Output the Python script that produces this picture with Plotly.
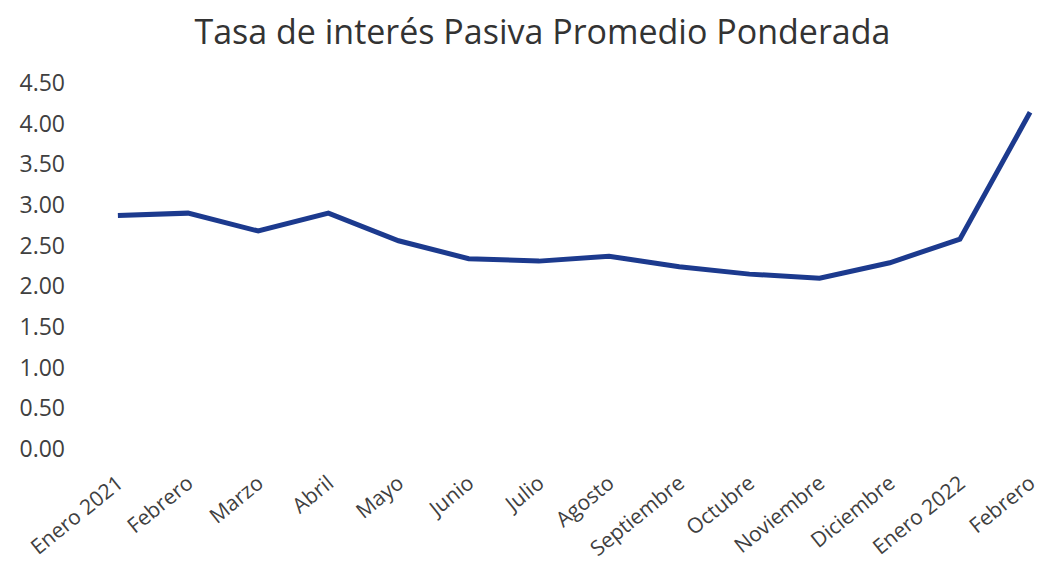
import plotly.graph_objects as go

meses = ["Enero 2021", "Febrero", "Marzo", "Abril", "Mayo", "Junio", "Julio",
         "Agosto", "Septiembre", "Octubre", "Noviembre", "Diciembre", "Enero 2022", "Febrero"]
tasa = [2.87, 2.90, 2.68, 2.90, 2.56, 2.34, 2.31, 2.37, 2.24, 2.15, 2.10, 2.29, 2.58, 4.14]
y_ticks = [0, 0.5, 1.0, 1.5, 2.0, 2.5, 3.0, 3.5, 4.0, 4.5]

idx = list(range(len(meses)))

fig = go.Figure()
fig.add_trace(go.Scatter(
    x=idx, y=tasa, mode="lines",
    line=dict(color="#1c3a8e", width=5),
    showlegend=False,
))

fig.update_layout(
    width=1052, height=565,
    paper_bgcolor="white", plot_bgcolor="white",
    margin=dict(l=72, r=18, t=75, b=124, autoexpand=False),
    title=dict(text="Tasa de interés Pasiva Promedio Ponderada",
               x=0.508, xanchor="center", y=0.958, yanchor="middle",
               font=dict(family="Open Sans", size=34, color="#333333")),
    font=dict(family="Open Sans", color="#404040"),
)
fig.update_xaxes(
    range=[-0.54, 13.17], automargin=False,
    tickmode="array", tickvals=idx, ticktext=meses,
    tickangle=-39, tickfont=dict(size=21, color="#404040"),
    showgrid=False, zeroline=False, showline=False, ticks="",
    ticklabelstandoff=17,
)
fig.update_yaxes(
    range=[0, 4.5], automargin=False,
    tickmode="array", tickvals=y_ticks,
    ticktext=[f"{v:.2f}" for v in y_ticks],
    tickfont=dict(size=23, color="#404040"),
    showgrid=False, zeroline=False, showline=False, ticks="",
    ticklabelstandoff=14,
)

fig.write_html("out.html")
